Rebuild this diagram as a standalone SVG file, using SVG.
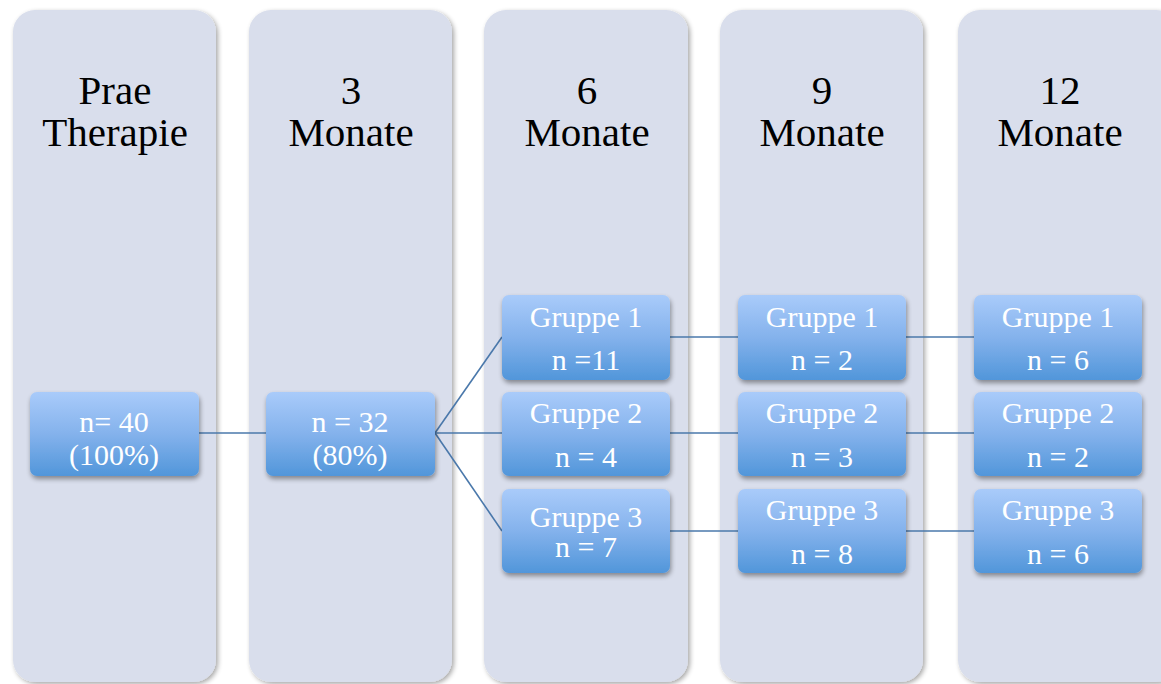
<svg xmlns="http://www.w3.org/2000/svg" width="1161" height="684" viewBox="0 0 1161 684">
  <defs>
    <linearGradient id="boxFill" x1="0" y1="0" x2="0" y2="1">
      <stop offset="0" stop-color="#a9cbfa"/>
      <stop offset="0.5" stop-color="#84b2ec"/>
      <stop offset="1" stop-color="#5196da"/>
    </linearGradient>
    <filter id="colShadow" x="-10%" y="-10%" width="125%" height="125%">
      <feGaussianBlur in="SourceAlpha" stdDeviation="2.5"/>
      <feOffset dx="2" dy="2" result="b"/>
      <feComponentTransfer><feFuncA type="linear" slope="0.35"/></feComponentTransfer>
      <feMerge><feMergeNode/><feMergeNode in="SourceGraphic"/></feMerge>
    </filter>
    <filter id="boxShadow" x="-10%" y="-10%" width="125%" height="135%">
      <feGaussianBlur in="SourceAlpha" stdDeviation="2.5"/>
      <feOffset dx="1" dy="3" result="b"/>
      <feComponentTransfer><feFuncA type="linear" slope="0.4"/></feComponentTransfer>
      <feMerge><feMergeNode/><feMergeNode in="SourceGraphic"/></feMerge>
    </filter>
  </defs>
  <style>
    .col { fill: #d9deec; filter: url(#colShadow); }
    .head { font-family: "Liberation Serif", "DejaVu Serif", serif; font-size: 41px; fill: #000; text-anchor: middle; }
    .box { fill: url(#boxFill); filter: url(#boxShadow); }
    .lbl { font-family: "Liberation Serif", "DejaVu Serif", serif; font-size: 30px; fill: #fff; text-anchor: middle; }
    .link { stroke: #4a78ab; stroke-width: 1.6; fill: none; }
  </style>
  <rect width="1161" height="684" fill="#ffffff"/>

  <!-- time-point columns -->
  <g id="col-prae"><rect class="col" x="13" y="10" width="203" height="672" rx="22"/>
    <text class="head" x="115" y="104">Prae</text><text class="head" x="115" y="146">Therapie</text></g>
  <g id="col-3"><rect class="col" x="249" y="10" width="203" height="672" rx="22"/>
    <text class="head" x="351" y="104">3</text><text class="head" x="351" y="146">Monate</text></g>
  <g id="col-6"><rect class="col" x="484" y="10" width="204" height="672" rx="22"/>
    <text class="head" x="587" y="104">6</text><text class="head" x="587" y="146">Monate</text></g>
  <g id="col-9"><rect class="col" x="720" y="10" width="203" height="672" rx="22"/>
    <text class="head" x="822" y="104">9</text><text class="head" x="822" y="146">Monate</text></g>
  <g id="col-12"><rect class="col" x="958" y="10" width="220" height="672" rx="22"/>
    <text class="head" x="1060" y="104">12</text><text class="head" x="1060" y="146">Monate</text></g>

  <!-- connectors -->
  <g id="connectors">
    <line class="link" x1="199" y1="433" x2="266" y2="433"/>
    <line class="link" x1="435" y1="433" x2="502" y2="337"/>
    <line class="link" x1="435" y1="433" x2="502" y2="433"/>
    <line class="link" x1="435" y1="433" x2="502" y2="531"/>
    <line class="link" x1="670" y1="337" x2="738" y2="337"/>
    <line class="link" x1="670" y1="433" x2="738" y2="433"/>
    <line class="link" x1="670" y1="531" x2="738" y2="531"/>
    <line class="link" x1="906" y1="337" x2="974" y2="337"/>
    <line class="link" x1="906" y1="433" x2="974" y2="433"/>
    <line class="link" x1="906" y1="531" x2="974" y2="531"/>
  </g>

  <!-- nodes -->
  <g id="n-prae"><rect class="box" x="30" y="392" width="169" height="84" rx="7"/>
    <text class="lbl" x="114" y="432">n= 40</text><text class="lbl" x="114" y="465">(100%)</text></g>
  <g id="n-3"><rect class="box" x="266" y="392" width="169" height="84" rx="7"/>
    <text class="lbl" x="350" y="432">n = 32</text><text class="lbl" x="350" y="465">(80%)</text></g>

  <g id="n-6-g1"><rect class="box" x="502" y="295" width="168" height="85" rx="7"/>
    <text class="lbl" x="586" y="327">Gruppe 1</text><text class="lbl" x="586" y="370">n =11</text></g>
  <g id="n-6-g2"><rect class="box" x="502" y="392" width="168" height="84" rx="7"/>
    <text class="lbl" x="586" y="423">Gruppe 2</text><text class="lbl" x="586" y="467">n = 4</text></g>
  <g id="n-6-g3"><rect class="box" x="502" y="489" width="168" height="84" rx="7"/>
    <text class="lbl" x="586" y="527">Gruppe 3</text><text class="lbl" x="586" y="557">n = 7</text></g>

  <g id="n-9-g1"><rect class="box" x="738" y="295" width="168" height="85" rx="7"/>
    <text class="lbl" x="822" y="327">Gruppe 1</text><text class="lbl" x="822" y="370">n = 2</text></g>
  <g id="n-9-g2"><rect class="box" x="738" y="392" width="168" height="84" rx="7"/>
    <text class="lbl" x="822" y="423">Gruppe 2</text><text class="lbl" x="822" y="467">n = 3</text></g>
  <g id="n-9-g3"><rect class="box" x="738" y="489" width="168" height="84" rx="7"/>
    <text class="lbl" x="822" y="520">Gruppe 3</text><text class="lbl" x="822" y="564">n = 8</text></g>

  <g id="n-12-g1"><rect class="box" x="974" y="295" width="168" height="85" rx="7"/>
    <text class="lbl" x="1058" y="327">Gruppe 1</text><text class="lbl" x="1058" y="370">n = 6</text></g>
  <g id="n-12-g2"><rect class="box" x="974" y="392" width="168" height="84" rx="7"/>
    <text class="lbl" x="1058" y="423">Gruppe 2</text><text class="lbl" x="1058" y="467">n = 2</text></g>
  <g id="n-12-g3"><rect class="box" x="974" y="489" width="168" height="84" rx="7"/>
    <text class="lbl" x="1058" y="520">Gruppe 3</text><text class="lbl" x="1058" y="564">n = 6</text></g>
</svg>
